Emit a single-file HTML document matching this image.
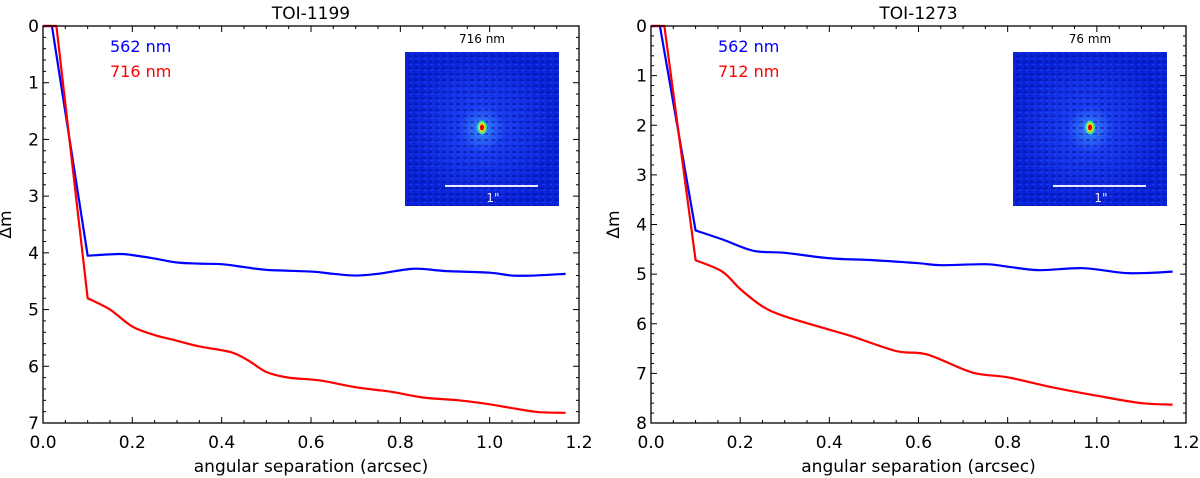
<!DOCTYPE html>
<html><head><meta charset="utf-8"><style>
body{margin:0;background:#fff;}
svg{display:block;font-family:"DejaVu Sans","Liberation Sans",sans-serif;}
</style></head><body>
<svg id="c" width="1200" height="478" viewBox="0 0 1200 478">
<defs>
<radialGradient id="glow" cx="50%" cy="50%" r="50%">
<stop offset="0" stop-color="#3a8cff"/><stop offset="0.3" stop-color="#1a3cf0"/><stop offset="1" stop-color="#0a22d8"/>
</radialGradient>
<pattern id="speck" width="7" height="6" patternUnits="userSpaceOnUse">
<rect x="1" y="1" width="4" height="2" fill="#000a80" opacity="0.45"/><rect x="4" y="4" width="2" height="1" fill="#3060ff" opacity="0.5"/>
</pattern>
</defs>
</svg>
<script>
const xTicks=[0,0.2,0.4,0.6,0.8,1.0,1.2];
const xTickLabels=["0.0","0.2","0.4","0.6","0.8","1.0","1.2"];
const leftTitle="TOI-1199";
const rightTitle="TOI-1273";
const leftYTicks=[0,1,2,3,4,5,6,7];
const rightYTicks=[0,1,2,3,4,5,6,7,8];
const leftBlueX=[0,0.02,0.1,0.17,0.2,0.25,0.3,0.35,0.4,0.45,0.5,0.6,0.65,0.7,0.75,0.83,0.9,1.0,1.05,1.1,1.17];
const leftBlueY=[0,0,4.05,4.02,4.04,4.1,4.17,4.19,4.2,4.25,4.3,4.33,4.37,4.4,4.37,4.28,4.32,4.35,4.4,4.4,4.37];
const leftRedX=[0,0.03,0.1,0.15,0.2,0.25,0.3,0.35,0.42,0.46,0.5,0.55,0.62,0.7,0.78,0.85,0.93,1.0,1.1,1.17];
const leftRedY=[0,0,4.8,5.0,5.3,5.45,5.55,5.65,5.75,5.9,6.1,6.2,6.25,6.37,6.45,6.55,6.6,6.67,6.8,6.82];
const rightBlueX=[0,0.02,0.1,0.16,0.23,0.3,0.4,0.5,0.6,0.65,0.75,0.8,0.87,0.97,1.07,1.17];
const rightBlueY=[0,0,4.12,4.3,4.53,4.57,4.68,4.72,4.78,4.82,4.8,4.85,4.92,4.88,4.98,4.95];
const rightRedX=[0,0.03,0.1,0.16,0.2,0.25,0.3,0.4,0.45,0.55,0.62,0.72,0.8,0.9,1.0,1.1,1.17];
const rightRedY=[0,0,4.72,4.95,5.3,5.65,5.85,6.12,6.25,6.55,6.62,6.98,7.08,7.28,7.45,7.6,7.63];

const svg=document.getElementById('c');
const NS='http://www.w3.org/2000/svg';
function mk(tag,attrs,parent){const e=document.createElementNS(NS,tag);for(const k in attrs)e.setAttribute(k,attrs[k]);(parent||svg).appendChild(e);return e;}
function smoothPath(pts){let d='M'+pts[0][0]+','+pts[0][1];
for(let i=1;i<pts.length;i++){const p1=pts[i-1],p2=pts[i];
if(i<=2){d+=' L'+p2[0]+','+p2[1];continue;}
const p0=(i-2>=2)?pts[i-2]:p1, p3=pts[i+1]||p2;
const c1=[p1[0]+(p2[0]-p0[0])/6,p1[1]+(p2[1]-p0[1])/6],c2=[p2[0]-(p3[0]-p1[0])/6,p2[1]-(p3[1]-p1[1])/6];
d+=' C'+c1[0]+','+c1[1]+' '+c2[0]+','+c2[1]+' '+p2[0]+','+p2[1];}return d;}

function panel(id,L,R,T,B,ymax,yTicks,title,bx,by,rx,ry,lab1,lab2,insetX,insetTitle){
 const g=mk('g',{});
 
 
 const sx=v=>L+(R-L)*v/1.2, sy=v=>T+(B-T)*v/ymax;
 const t=mk('text',{x:(L+R)/2,y:19,'font-size':17,'text-anchor':'middle',fill:'#000'},g);t.textContent=title;
 
 for(let v=0;v<=1.2001;v+=0.05){const x=sx(v);const maj=Math.abs(v*5-Math.round(v*5))<1e-6;const len=maj?6:3;
  mk('line',{x1:x,x2:x,y1:B,y2:B-len,stroke:'#000','stroke-width':1},g);mk('line',{x1:x,x2:x,y1:T,y2:T+len,stroke:'#000','stroke-width':1},g);}
 for(let v=0;v<=ymax+1e-6;v+=0.2){const y=sy(v);const maj=Math.abs(v-Math.round(v))<1e-6;const len=maj?6:3;
  mk('line',{x1:L,x2:L+len,y1:y,y2:y,stroke:'#000','stroke-width':1},g);mk('line',{x1:R,x2:R-len,y1:y,y2:y,stroke:'#000','stroke-width':1},g);}
 xTicks.forEach((v,i)=>{const tx=mk('text',{x:sx(v),y:B+25,'font-size':17,'text-anchor':'middle'},g);tx.textContent=xTickLabels[i];
  });
 yTicks.forEach(v=>{const ty=mk('text',{x:L-4,y:sy(v)+6,'font-size':17,'text-anchor':'end'},g);ty.textContent=v;
  });
 const xl=mk('text',{x:(L+R)/2,y:472,'font-size':17,'text-anchor':'middle'},g);xl.textContent='angular separation (arcsec)';
 
 const yx=L-32, yy=(T+B)/2;
 const yl=mk('text',{x:yx,y:yy,'font-size':17,'text-anchor':'middle',transform:'rotate(-90 '+yx+' '+yy+')'},g);yl.textContent='Δm';
 
 const ig=mk('g',{},g);
 const iw=154,ih=154,iy=52;
 mk('rect',{x:insetX,y:iy,width:iw,height:ih,fill:'url(#glow)'},ig);
 mk('rect',{x:insetX,y:iy,width:iw,height:ih,fill:'url(#speck)'},ig);
 const cx=insetX+iw/2,cy=iy+ih*0.49;
 mk('ellipse',{cx:cx,cy:cy,rx:5,ry:7,fill:'#40e0a0'},ig);
 mk('ellipse',{cx:cx,cy:cy,rx:3,ry:5,fill:'#ffe000'},ig);
 mk('ellipse',{cx:cx,cy:cy,rx:2,ry:3,fill:'#e00000'},ig);
 mk('line',{x1:insetX+40,x2:insetX+133,y1:iy+134,y2:iy+134,stroke:'#e8e8ff','stroke-width':2},ig);
 const one=mk('text',{x:insetX+88,y:iy+150,'font-size':12,'text-anchor':'middle',fill:'#e8e8ff'},ig);one.textContent='1"';
 const it=mk('text',{x:insetX+iw/2,y:43,'font-size':12,'text-anchor':'middle'},ig);it.textContent=insetTitle;
 
 function series(xs,ys,color,name){const pts=xs.map((x,i)=>[sx(x),sy(ys[i])]);
  const p=mk('path',{d:smoothPath(pts),fill:'none',stroke:color,'stroke-width':2.2,'stroke-linejoin':'round'},g);
  }
 series(bx,by,'#0000ff','line-562nm');
 series(rx,ry,'#ff0000','line-'+lab2.split(' ')[0]+'nm');
 const l1=mk('text',{x:L+67,y:52,'font-size':16,fill:'#0000ff'},g);l1.textContent=lab1;
 
 const l2=mk('text',{x:L+67,y:77,'font-size':16,fill:'#ff0000'},g);l2.textContent=lab2;
 
 mk('rect',{x:L,y:T,width:R-L,height:B-T,fill:'none',stroke:'#000','stroke-width':1.3},g);
}
panel('panel-toi-1199',43,579,26,423,7,leftYTicks,leftTitle,leftBlueX,leftBlueY,leftRedX,leftRedY,'562 nm','716 nm',405,'716 nm');
panel('panel-toi-1273',651,1186,26,423,8,rightYTicks,rightTitle,rightBlueX,rightBlueY,rightRedX,rightRedY,'562 nm','712 nm',1013,'76  mm');
</script>
</body></html>
